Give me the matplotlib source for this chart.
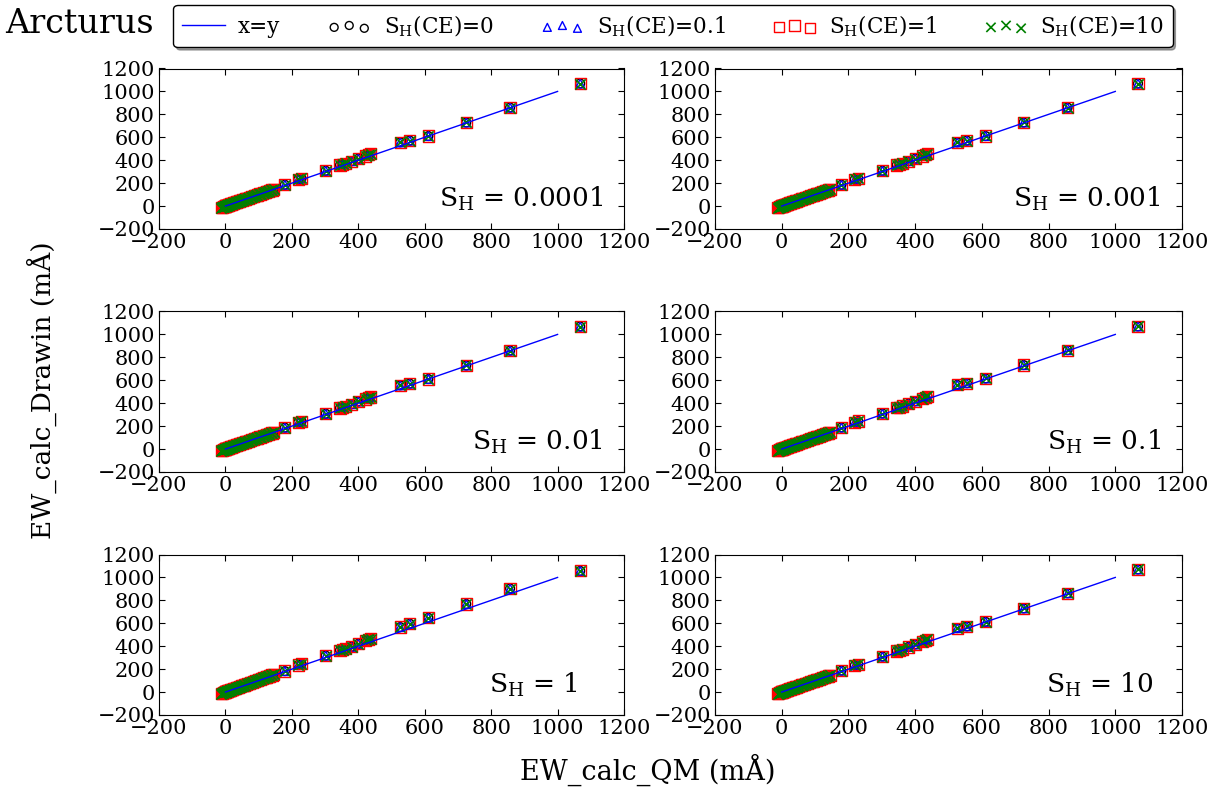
import matplotlib
matplotlib.use("Agg")
import matplotlib.pyplot as plt

plt.rcParams['font.family'] = ['DejaVu Serif']
plt.rcParams['mathtext.fontset'] = 'dejavuserif'
plt.rcParams['xtick.direction'] = 'in'
plt.rcParams['ytick.direction'] = 'in'
plt.rcParams['xtick.top'] = True
plt.rcParams['ytick.right'] = True

# ---- data (mÅ) ----
panel_labels = ["S$_\\mathrm{H}$ = 0.0001", "S$_\\mathrm{H}$ = 0.001",
                "S$_\\mathrm{H}$ = 0.01", "S$_\\mathrm{H}$ = 0.1",
                "S$_\\mathrm{H}$ = 1", "S$_\\mathrm{H}$ = 10"]
series_labels = ["S$_\\mathrm{H}$(CE)=0", "S$_\\mathrm{H}$(CE)=0.1",
                 "S$_\\mathrm{H}$(CE)=1", "S$_\\mathrm{H}$(CE)=10"]

cluster_qm = [-12, -9, -6, -4, -2, 0, 1, 2, 4, 5, 7, 9, 11, 13, 15, 17, 20, 22, 25,
              28, 31, 34, 37, 40, 43, 46, 50, 53, 57, 60, 64, 68, 72, 76, 80, 84,
              88, 92, 96, 100, 104, 108, 112, 116, 120, 124, 128, 132, 136, 140, 145]
cluster_drawin = [-14, -10, -7, -4, -2, 0, 1, 3, 4, 6, 8, 9, 12, 14, 16, 18, 21, 23, 26,
                  29, 32, 35, 38, 41, 44, 47, 51, 54, 58, 61, 65, 69, 73, 77, 81, 85,
                  89, 93, 97, 101, 105, 109, 113, 117, 121, 125, 129, 133, 137, 141, 146]
cluster_drawin_sh1 = [-13, -9, -6, -3, -1, 1, 2, 4, 5, 7, 9, 11, 13, 15, 17, 20, 23, 25, 28,
                      31, 34, 37, 40, 43, 47, 50, 54, 57, 61, 65, 69, 73, 77, 81, 85, 90,
                      94, 98, 102, 107, 111, 115, 119, 124, 128, 132, 136, 141, 145, 149, 155]

strong_qm = [179, 219, 229, 302, 345, 353, 362, 380, 400, 422, 430, 437, 526, 555,
             611, 725, 857, 1068]
strong_drawin_sh00001 = [186, 232, 242, 308, 358, 363, 372, 392, 413, 437, 448, 458,
                         556, 571, 611, 729, 859, 1069]
strong_drawin_sh0001 = [186, 232, 242, 308, 358, 363, 372, 392, 413, 437, 448, 458,
                        556, 571, 611, 729, 859, 1069]
strong_drawin_sh001 = [187, 232, 242, 308, 358, 363, 372, 392, 415, 437, 448, 455,
                       556, 571, 611, 729, 859, 1069]
strong_drawin_sh01 = [188, 234, 244, 310, 360, 366, 375, 395, 417, 440, 451, 461,
                      560, 575, 616, 733, 863, 1070]
strong_drawin_sh1 = [183, 236, 246, 318, 365, 370, 380, 395, 421, 450, 460, 467,
                     567, 596, 648, 768, 903, 1057]
strong_drawin_sh10 = [187, 232, 242, 310, 358, 365, 374, 394, 416, 440, 450, 460,
                      558, 573, 613, 730, 862, 1070]

panel_strong = [strong_drawin_sh00001, strong_drawin_sh0001, strong_drawin_sh001,
                strong_drawin_sh01, strong_drawin_sh1, strong_drawin_sh10]
panel_cluster = [cluster_drawin, cluster_drawin, cluster_drawin,
                 cluster_drawin, cluster_drawin_sh1, cluster_drawin]

identity_x = [0, 1000]
ticks = [-200, 0, 200, 400, 600, 800, 1000, 1200]

# ---- styles ----
markers = ['o', '^', 's', 'x']
edgecols = ['black', 'blue', 'red', 'green']
msize = [40, 40, 65, 55]

fig = plt.figure(figsize=(12.13, 7.91), dpi=100)
W, H = 1213.0, 791.0
col_left = [159 / W, 715 / W]
col_w = [465 / W, 467 / W]
row_bottom = [1 - 229 / H, 1 - 472 / H, 1 - 715 / H]
row_h = 160.5 / H
label_x = [0.955, 0.955, 0.955, 0.955, 0.90, 0.94]

handles = []
for i in range(6):
    r, c = divmod(i, 2)
    ax = fig.add_axes([col_left[c], row_bottom[r], col_w[c], row_h])
    xs = cluster_qm + strong_qm
    ys = panel_cluster[i] + panel_strong[i]
    ln, = ax.plot(identity_x, identity_x, color='blue', lw=1, zorder=3)
    hs = []
    for m, ec, s in zip(markers, edgecols, msize):
        if m == 'x':
            h = ax.scatter(xs, ys, marker=m, s=s, c=ec, linewidths=1.2, zorder=2)
        else:
            h = ax.scatter(xs, ys, marker=m, s=s, facecolors='none',
                           edgecolors=ec, linewidths=1, zorder=2)
        hs.append(h)
    if i == 0:
        handles = [ln] + hs
    ax.set_xlim(-200, 1200)
    ax.set_ylim(-200, 1200)
    ax.set_xticks(ticks)
    ax.set_yticks(ticks)
    ax.tick_params(labelsize=15, length=4, width=0.8, pad=3)
    ax.text(label_x[i], 0.14, panel_labels[i], transform=ax.transAxes,
            ha='right', va='baseline', fontsize=19)

fig.legend(handles, ['x=y'] + series_labels, loc='center',
           bbox_to_anchor=(673 / W, 1 - 26 / H), ncol=5, fontsize=15.5,
           fancybox=True, shadow=True, scatterpoints=3,
           scatteryoffsets=[0.375, 0.5, 0.3125], handlelength=2.0,
           columnspacing=2.2, handletextpad=0.6, framealpha=1,
           edgecolor='black', borderpad=0.4, markerscale=0.9)

fig.text(5 / W, 1 - 24 / H, "Arcturus", fontsize=24, ha='left', va='center')
fig.text(42 / W, 0.507, "EW_calc_Drawin (mÅ)", fontsize=19, rotation=90,
         ha='center', va='center')
fig.text(648 / W, 1 - 770 / H, "EW_calc_QM (mÅ)", fontsize=19.5,
         ha='center', va='center')

fig.savefig("out.png", dpi=100, facecolor='white')
